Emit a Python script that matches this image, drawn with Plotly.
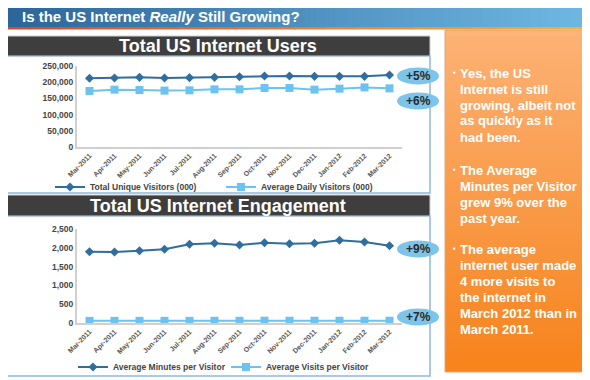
import plotly.graph_objects as go

months = ["Mar-2011", "Apr-2011", "May-2011", "Jun-2011", "Jul-2011", "Aug-2011", "Sep-2011",
          "Oct-2011", "Nov-2011", "Dec-2011", "Jan-2012", "Feb-2012", "Mar-2012"]
total_unique = [212000, 213000, 215000, 213000, 214000, 215000, 217000, 219000, 219000, 218000, 218000, 218000, 222000]
avg_daily = [173000, 177000, 176000, 174000, 175000, 178000, 178000, 182000, 182000, 177000, 180000, 184000, 181000]
avg_minutes = [1896, 1888, 1923, 1960, 2093, 2120, 2074, 2136, 2109, 2120, 2199, 2154, 2056]
avg_visits = [57, 57, 58, 58, 58, 59, 59, 60, 60, 60, 61, 61, 61]
growth_labels = ["+5%", "+6%", "+9%", "+7%"]

# the page body keeps its default 8px margin, so the figure is drawn 8px smaller
# and every layout position is expressed in window pixels minus that offset
OFF = 8
FW, FH = 590 - OFF, 380 - OFF
def X(p): return (p - OFF) / FW
def Y(p): return 1 - (p - OFF) / FH

DARK = "#2f6e9e"
LIGHT = "#6cc3f0"
FONT = "Liberation Sans"

fig = go.Figure()

fig.add_trace(go.Scatter(x=months, y=total_unique, name="Total Unique Visitors (000)",
                         mode="lines+markers", line=dict(color=DARK, width=2),
                         marker=dict(symbol="diamond", size=7, color=DARK),
                         xaxis="x", yaxis="y", legend="legend"))
fig.add_trace(go.Scatter(x=months, y=avg_daily, name="Average Daily Visitors (000)",
                         mode="lines+markers", line=dict(color=LIGHT, width=2),
                         marker=dict(symbol="square", size=8, color=LIGHT),
                         xaxis="x", yaxis="y", legend="legend"))
fig.add_trace(go.Scatter(x=months, y=avg_minutes, name="Average Minutes per Visitor",
                         mode="lines+markers", line=dict(color=DARK, width=2),
                         marker=dict(symbol="diamond", size=7, color=DARK),
                         xaxis="x2", yaxis="y2", legend="legend2"))
fig.add_trace(go.Scatter(x=months, y=avg_visits, name="Average Visits per Visitor",
                         mode="lines+markers", line=dict(color=LIGHT, width=2),
                         marker=dict(symbol="square", size=8, color=LIGHT),
                         xaxis="x2", yaxis="y2", legend="legend2"))

xcommon = dict(type="category", range=[-0.5, 12.5], showgrid=False, showline=True, automargin=False,
               linecolor="#d0d0d0", linewidth=2, ticks="", tickangle=-45,
               tickfont=dict(family=FONT, size=7, color="#555", weight="bold"))
ycommon = dict(showgrid=False, showline=True, linecolor="#d0d0d0", linewidth=2, ticks="",
               zeroline=False, tickformat=",d", automargin=False,
               tickfont=dict(family=FONT, size=8.5, color="#444", weight="bold"))

shapes = []
def band(x0, x1, y0, y1, color, layer="below", line=None):
    shapes.append(dict(type="rect", xref="paper", yref="paper", x0=X(x0), x1=X(x1),
                       y0=Y(y1), y1=Y(y0), fillcolor=color,
                       line=line if line else dict(width=0), layer=layer))

def rgb(c): return "rgb(%d,%d,%d)" % c
def mix(a, b, t): return tuple(int(a[k] + (b[k] - a[k]) * t) for k in range(3))

# title bar gradient
n = 60
c0 = (0x2c, 0x66, 0x98); c1 = (0x70, 0xb8, 0xe4)
for i in range(n):
    band(590 * i / n, 590 * (i + 1) / n + 1, 0, 27, rgb(mix(c0, c1, i / (n - 1))))
# orange line under title
o0 = (0xd9, 0x4a, 0x2a); o1 = (0xf6, 0xb0, 0x3a)
for i in range(20):
    band(590 * i / 20, 590 * (i + 1) / 20 + 1, 27, 29.5, rgb(mix(o0, o1, i / 19)))
# panels
for (hy0, hy1, py1) in [(36, 56, 193), (195, 216, 376)]:
    band(5, 430, hy1, py1, "white", line=dict(color="#8db9da", width=1.5))
    band(5, 430, hy0, hy1, "#3e3e3e", line=dict(color="#cfcfcf", width=1))
# orange box gradient
b0 = (0xfd, 0xb2, 0x76); b1 = (0xf7, 0x84, 0x1c)
nb = 50
for i in range(nb):
    ya = 30 + (372 - 30) * i / nb
    yb = min(30 + (372 - 30) * (i + 1) / nb + 0.8, 372)
    band(445, 586, ya, yb, rgb(mix(b0, b1, i / (nb - 1))))
band(445, 586, 30, 372, "rgba(0,0,0,0)", line=dict(color="#e9a570", width=1))

# ellipses
ell_centers = [(418, 76), (418, 101), (418, 249), (418, 317)]
annotations = []
for (cx, cy), lab in zip(ell_centers, growth_labels):
    shapes.append(dict(type="circle", xref="paper", yref="paper", x0=X(cx - 21), x1=X(cx + 21),
                       y0=Y(cy + 8.5), y1=Y(cy - 8.5), fillcolor="#7cc4ec", line=dict(width=0)))
    annotations.append(dict(x=X(cx), y=Y(cy), xref="paper", yref="paper", text="<b>%s</b>" % lab,
                            showarrow=False, font=dict(family=FONT, size=12, color="#2b2b2b"),
                            xanchor="center", yanchor="middle"))

annotations.append(dict(x=X(20), y=Y(16.5), xref="paper", yref="paper",
                        text="<b>Is the US Internet <i>Really</i> Still Growing?</b>", showarrow=False,
                        font=dict(family=FONT, size=15, color="white"), xanchor="left", yanchor="middle"))
for cy, txt in [(46, "Total US Internet Users"), (205.5, "Total US Internet Engagement")]:
    annotations.append(dict(x=X(218), y=Y(cy), xref="paper", yref="paper", text="<b>%s</b>" % txt,
                            showarrow=False, font=dict(family=FONT, size=18, color="white"),
                            xanchor="center", yanchor="middle"))

bullets = [
    (73, ["Yes, the US", "Internet is still", "growing, albeit not", "as quickly as it", "had been."]),
    (170, ["The Average", "Minutes per Visitor", "grew 9% over the", "past year."]),
    (249, ["The average", "internet user made", "4 more visits to", "the internet in", "March 2012 than in", "March 2011."]),
]
for y0, lines in bullets:
    annotations.append(dict(x=X(451), y=Y(y0 - 1), xref="paper", yref="paper", text="<b>▪</b>",
                            showarrow=False, font=dict(family=FONT, size=8, color="white"),
                            xanchor="left", yanchor="middle"))
    for j, ln in enumerate(lines):
        annotations.append(dict(x=X(458), y=Y(y0 + 16 * j), xref="paper", yref="paper",
                                text="<b>%s</b>" % ln, showarrow=False,
                                font=dict(family=FONT, size=13, color="white"),
                                xanchor="left", yanchor="middle"))

fig.update_layout(
    width=FW, height=FH, margin=dict(l=0, r=0, t=0, b=0, pad=0, autoexpand=False),
    paper_bgcolor="white", plot_bgcolor="rgba(0,0,0,0)",
    xaxis=dict(domain=[X(77), X(402)], anchor="y", **xcommon),
    yaxis=dict(domain=[Y(147), Y(66)], anchor="x", range=[0, 250000], dtick=50000, **ycommon),
    xaxis2=dict(domain=[X(77), X(402)], anchor="y2", **xcommon),
    yaxis2=dict(domain=[Y(323), Y(229)], anchor="x2", range=[0, 2500], dtick=500, **ycommon),
    legend=dict(orientation="h", x=X(50), y=Y(187), xanchor="left", yanchor="middle",
                entrywidth=126, itemwidth=30, bgcolor="rgba(0,0,0,0)",
                font=dict(family=FONT, size=8.5, color="#444", weight="bold")),
    legend2=dict(orientation="h", x=X(73), y=Y(367), xanchor="left", yanchor="middle",
                 entrywidth=108, itemwidth=30, bgcolor="rgba(0,0,0,0)",
                 font=dict(family=FONT, size=8.5, color="#444", weight="bold")),
    shapes=shapes, annotations=annotations, showlegend=True,
)

fig.write_html("out.html")
